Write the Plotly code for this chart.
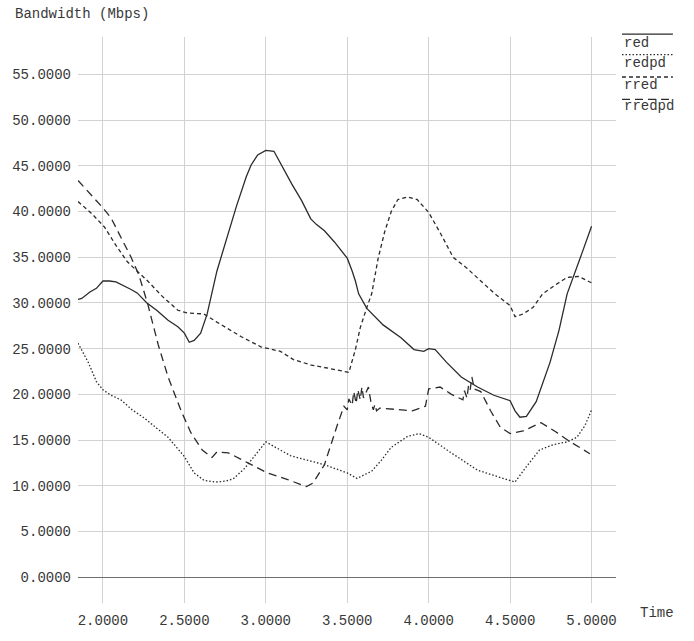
import plotly.graph_objects as go

# --- bandwidth samples per queueing scheme (time in s, bandwidth in Mbps) ---
red_t = [1.847, 1.87, 1.92, 1.96, 2.0, 2.04, 2.08, 2.13, 2.17, 2.21, 2.245, 2.27, 2.33, 2.40,
         2.46, 2.5, 2.53, 2.56, 2.60, 2.64, 2.70, 2.77, 2.82, 2.88, 2.91, 2.95, 3.0, 3.05, 3.10,
         3.16, 3.22, 3.276, 3.31, 3.36, 3.42, 3.5, 3.53, 3.55, 3.57, 3.62, 3.72, 3.83, 3.91,
         3.97, 4.0, 4.04, 4.11, 4.20, 4.30, 4.40, 4.5, 4.53, 4.56, 4.60, 4.66, 4.745, 4.80,
         4.85, 4.94, 5.0]
red_v = [30.4, 30.5, 31.2, 31.6, 32.4, 32.4, 32.3, 31.9, 31.5, 31.1, 30.4, 30.0, 29.2, 28.1,
         27.4, 26.7, 25.7, 25.9, 26.7, 28.8, 33.5, 37.7, 40.6, 43.8, 45.1, 46.2, 46.7, 46.6, 44.9,
         43.0, 41.2, 39.2, 38.6, 37.9, 36.7, 34.9, 33.5, 32.4, 31.0, 29.4, 27.6, 26.2, 24.9,
         24.7, 25.0, 24.9, 23.5, 21.9, 20.8, 19.9, 19.3, 18.2, 17.5, 17.6, 19.2, 23.5, 27.0,
         31.0, 35.4, 38.4]

redpd_t = [1.847, 1.91, 1.96, 2.0, 2.05, 2.11, 2.18, 2.255, 2.33, 2.40, 2.5, 2.56, 2.62, 2.69,
           2.75, 2.80, 2.87, 2.93, 3.0, 3.07, 3.15, 3.21, 3.36, 3.5, 3.56, 3.65, 3.71, 3.77,
           3.87, 3.94, 4.0, 4.13, 4.30, 4.44, 4.53, 4.60, 4.68, 4.765, 4.85, 4.91, 4.96, 5.0]
redpd_v = [25.6, 23.5, 21.4, 20.5, 19.9, 19.4, 18.3, 17.4, 16.3, 15.3, 13.2, 11.4, 10.6, 10.4,
           10.5, 10.75, 11.9, 13.3, 14.8, 14.1, 13.3, 13.0, 12.3, 11.4, 10.8, 11.6, 12.8, 14.2,
           15.4, 15.7, 15.3, 13.7, 11.7, 10.9, 10.4, 12.1, 13.9, 14.5, 14.8, 15.3, 16.6, 18.3]

rred_t = [1.847, 1.93, 2.01, 2.08, 2.15, 2.21, 2.275, 2.36, 2.46, 2.52, 2.62, 2.70, 2.85, 2.97,
          3.09, 3.17, 3.28, 3.40, 3.51, 3.55, 3.58, 3.62, 3.65, 3.69, 3.73, 3.77, 3.81, 3.87,
          3.93, 4.0, 4.07, 4.15, 4.235, 4.32, 4.40, 4.45, 4.5, 4.53, 4.58, 4.64, 4.70, 4.78,
          4.85, 4.92, 5.0]
rred_v = [41.1, 39.8, 38.3, 36.3, 34.5, 33.5, 32.4, 30.8, 29.2, 28.9, 28.8, 27.9, 26.3, 25.2,
          24.7, 23.8, 23.2, 22.8, 22.4, 24.9, 27.3, 29.5, 31.0, 34.9, 37.8, 40.0, 41.3, 41.6,
          41.3, 39.9, 37.7, 35.0, 33.8, 32.4, 31.1, 30.4, 29.7, 28.5, 28.8, 29.5, 31.0, 32.0,
          32.8, 32.9, 32.2]

rredpd_t = [1.847, 1.92, 2.0, 2.05, 2.11, 2.17, 2.22, 2.275, 2.34, 2.40, 2.48, 2.54, 2.61, 2.67,
            2.70, 2.77, 2.89, 3.01, 3.13, 3.25, 3.29, 3.36, 3.44, 3.48, 3.50, 3.51, 3.53, 3.54,
            3.555, 3.565, 3.58, 3.59, 3.60, 3.63, 3.645, 3.66, 3.67, 3.68, 3.70, 3.83, 3.90,
            3.98, 4.0, 4.07, 4.14, 4.21, 4.22, 4.235, 4.245, 4.255, 4.265, 4.28, 4.32, 4.38,
            4.44, 4.5, 4.58, 4.69, 4.78, 4.87, 4.99]
rredpd_v = [43.4, 42.0, 40.4, 39.3, 37.2, 35.1, 33.1, 29.9, 25.4, 21.9, 18.2, 15.8, 13.9, 13.1,
            13.7, 13.6, 12.5, 11.4, 10.7, 9.9, 10.3, 12.3, 16.7, 18.7, 18.3, 19.5, 18.8, 20.3,
            19.0, 20.5, 19.4, 20.8, 19.6, 20.8, 19.2, 18.3, 18.9, 18.2, 18.5, 18.3, 18.2,
            18.7, 20.6, 20.8, 20.0, 19.4, 20.4, 19.6, 21.0, 20.5, 21.9, 20.6, 20.3, 18.2,
            16.4, 15.7, 16.0, 16.9, 15.9, 14.8, 13.5]

series_names = ["red", "redpd", "rred", "rredpd"]
series_dash = ["solid", "1.5px,2px", "4px,3px", "8px,5px"]

x_ticks = [2.0, 2.5, 3.0, 3.5, 4.0, 4.5, 5.0]
y_ticks = [0, 5, 10, 15, 20, 25, 30, 35, 40, 45, 50, 55]
x_range = [1.847, 5.15]
y_range = [-2.83, 59.1]

LINE = "#2b2b2b"
TEXT = "#383838"
GRID = "#d2d2d2"
FONT = "Courier New, Liberation Mono, monospace"

W, H = 694, 641
M = dict(l=77, r=78, t=37, b=24)
pw = W - M["l"] - M["r"]
ph = H - M["t"] - M["b"]


def px_x(x):
    return (x - M["l"]) / pw


def px_y(y):
    return (H - M["b"] - y) / ph


fig = go.Figure()
data = [(red_t, red_v), (redpd_t, redpd_v), (rred_t, rred_v), (rredpd_t, rredpd_v)]
for (tt, vv), name, dash in zip(data, series_names, series_dash):
    fig.add_trace(go.Scatter(x=tt, y=vv, mode="lines", name=name,
                             line=dict(color=LINE, width=1.3, dash=dash),
                             showlegend=False))

# key in the top right corner: sample stroke drawn above each name
shapes = []
annotations = []
key_line_y = [34, 55, 78, 101]
key_text_y = [43, 64, 86, 108]
for name, dash, ly, ty in zip(series_names, series_dash, key_line_y, key_text_y):
    shapes.append(dict(type="line", xref="paper", yref="paper",
                       x0=px_x(622), x1=px_x(673), y0=px_y(ly), y1=px_y(ly),
                       line=dict(color=LINE, width=1.3, dash=dash)))
    annotations.append(dict(text=name, xref="paper", yref="paper",
                            x=px_x(622), y=px_y(ty), xanchor="left", yanchor="middle",
                            showarrow=False, font=dict(family=FONT, size=14, color=TEXT)))

annotations.append(dict(text="Bandwidth (Mbps)", xref="paper", yref="paper",
                        x=px_x(12), y=px_y(13), xanchor="left", yanchor="middle",
                        showarrow=False, font=dict(family=FONT, size=14, color=TEXT)))
annotations.append(dict(text="Time", xref="paper", yref="paper",
                        x=px_x(638), y=px_y(627), xanchor="left", yanchor="middle",
                        showarrow=False, font=dict(family=FONT, size=14, color=TEXT)))

fig.update_layout(
    width=W, height=H, margin=M,
    paper_bgcolor="white", plot_bgcolor="white",
    font=dict(family=FONT, size=14, color=TEXT),
    shapes=shapes, annotations=annotations,
    xaxis=dict(range=x_range, tickvals=x_ticks, tickformat=".4f",
               showgrid=True, gridcolor=GRID, gridwidth=1, zeroline=False,
               showline=False, ticks="", ticklabelstandoff=7),
    yaxis=dict(range=y_range, tickvals=y_ticks, tickformat=".4f",
               showgrid=True, gridcolor=GRID, gridwidth=1,
               zeroline=True, zerolinecolor="#6e6e6e", zerolinewidth=1,
               showline=False, ticks="", ticklabelstandoff=6),
)

fig.write_html("out.html")
